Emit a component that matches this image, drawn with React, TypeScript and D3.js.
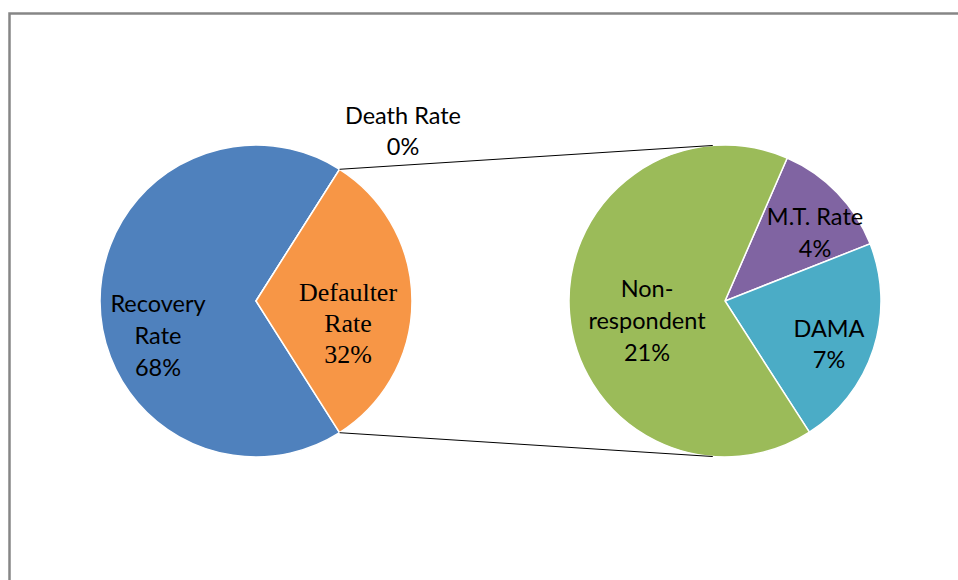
import React from "react";
import * as d3 from "d3";

const mainCategories = ["Recovery Rate", "Death Rate", "Defaulter Rate"];
const mainValues = [68, 0, 32];
const subCategories = ["M.T. Rate", "DAMA", "Non-respondent"];
const subValues = [4, 7, 21];

const W = 958;
const H = 580;
const R = 156;
const C1 = { x: 256, y: 301 };
const C2 = { x: 725, y: 301 };
const sans = "Lato, 'Open Sans', sans-serif";
const serif = "'Liberation Serif', 'Times New Roman', serif";

const mainColors = ["#4F81BD", "#C0504D", "#F79646"];
const subColors = ["#8064A2", "#4BACC6", "#9BBB59"];

// label layout: [cx, first baseline, lines, font, size, lineHeight]
const mainLabels = [
  { x: 158, y: 312, lines: ["Recovery", "Rate", "68%"], font: sans, size: 23.5, lh: 32 },
  { x: 403, y: 124, lines: ["Death Rate", "0%"], font: sans, size: 23.5, lh: 31 },
  { x: 348, y: 301, lines: ["Defaulter", "Rate", "32%"], font: serif, size: 26, lh: 31 },
];
const subLabels = [
  { x: 815, y: 225, lines: ["M.T. Rate", "4%"], font: sans, size: 23.5, lh: 32 },
  { x: 829, y: 337, lines: ["DAMA", "7%"], font: sans, size: 23.5, lh: 31 },
  { x: 647, y: 297, lines: ["Non-", "respondent", "21%"], font: sans, size: 23.5, lh: 32 },
];

export default function App() {
  const total1 = d3.sum(mainValues);
  const splitShare = mainValues[2] / total1;
  const start1 = Math.PI / 2 + splitShare * Math.PI;
  const pie1 = d3.pie<number>().sort(null).startAngle(start1).endAngle(start1 + 2 * Math.PI)(mainValues);
  const start2 = (23.5 * Math.PI) / 180;
  const pie2 = d3.pie<number>().sort(null).startAngle(start2).endAngle(start2 + 2 * Math.PI)(subValues);
  const arc = d3.arc<d3.PieArcDatum<number>>().innerRadius(0).outerRadius(R);

  const a1 = pie1[2].startAngle;
  const a2 = pie1[2].endAngle;
  const p = (c: { x: number; y: number }, a: number) => ({
    x: c.x + R * Math.sin(a),
    y: c.y - R * Math.cos(a),
  });
  const t1 = p(C1, a1);
  const b1 = p(C1, a2);
  const t2 = p(C2, (-4.5 * Math.PI) / 180);
  const b2 = p(C2, (184.5 * Math.PI) / 180);

  const renderLabel = (l: any, i: number) => (
    <text key={i} textAnchor="middle" fontFamily={l.font} fontSize={l.size} fill="#000">
      {l.lines.map((s: string, j: number) => (
        <tspan key={j} x={l.x} y={l.y + j * l.lh}>
          {s}
        </tspan>
      ))}
    </text>
  );

  return (
    <svg width={W} height={H} style={{ position: "absolute", left: 0, top: 0 }}>
      <rect x={0} y={0} width={W} height={H} fill="#fff" />
      <rect x={9.5} y={13.5} width={W + 20} height={H + 20} fill="none" stroke="#868686" strokeWidth={2.5} />
      <g transform={`translate(${C1.x},${C1.y})`}>
        {pie1.map((d, i) => (
          <path key={i} d={arc(d) || ""} fill={mainColors[i]} stroke="#fff" strokeWidth={1.5} />
        ))}
      </g>
      <g transform={`translate(${C2.x},${C2.y})`}>
        {pie2.map((d, i) => (
          <path key={i} d={arc(d) || ""} fill={subColors[i]} stroke="#fff" strokeWidth={1.5} />
        ))}
      </g>
      <line x1={t1.x} y1={t1.y} x2={t2.x} y2={t2.y} stroke="#000" strokeWidth={1} />
      <line x1={b1.x} y1={b1.y} x2={b2.x} y2={b2.y} stroke="#000" strokeWidth={1} />
      {mainLabels.map(renderLabel)}
      {subLabels.map((l, i) => renderLabel(l, i + 10))}
    </svg>
  );
}
